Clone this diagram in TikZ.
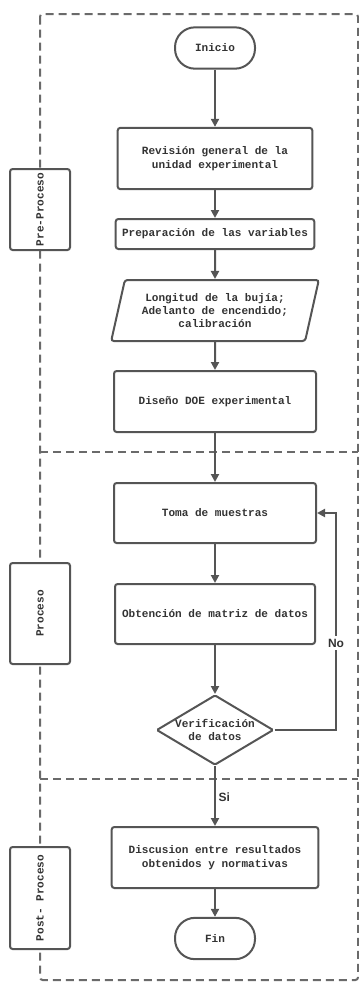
\documentclass[tikz,border=0pt]{standalone}
\usepackage{fontspec}
\setmonofont{Liberation Mono}
\setsansfont{Liberation Sans}
\usetikzlibrary{arrows.meta,shapes.geometric}
\definecolor{fcline}{HTML}{555555}
\definecolor{fctext}{HTML}{333333}
\definecolor{fcdash}{HTML}{6A6A6A}

\begin{document}
\begin{tikzpicture}[x=0.75pt, y=-0.75pt,
  txt/.style={font=\ttfamily\bfseries\fontsize{8.3}{10}\selectfont, text=fctext, align=center},
  box/.style={txt, draw=fcline, line width=1.5pt, fill=white, rounded corners=2pt, inner sep=2pt},
  term/.style={box, rounded corners=15pt, minimum width=60pt, minimum height=31pt},
  io/.style={box, trapezium, trapezium left angle=74, trapezium right angle=106, trapezium stretches=true, minimum width=156pt, minimum height=45.75pt},
  decision/.style={draw=fcline, line width=1.5pt, fill=white, diamond, rounded corners=1pt, minimum width=87.75pt, minimum height=52.5pt, inner sep=0pt},
  lane/.style={box, rotate=90, minimum height=45pt},
  flow/.style={draw=fcline, line width=1.5pt, -{Triangle[length=6pt,width=6pt]}},
  answer/.style={font=\sffamily\bfseries\fontsize{9}{10}\selectfont, text=fctext, inner sep=2pt},
  frame/.style={draw=fcdash, line width=1.5pt, dash pattern=on 6pt off 3.75pt}]
  \useasboundingbox (0,0) rectangle (358,983);

  % swimlanes
  \draw[frame, rounded corners=2pt] (40,14) rectangle (358,980);
  \draw[frame] (40,452) -- (358,452);
  \draw[frame] (40,779) -- (358,779);
  \node[lane, minimum width=60.75pt] (pre) at (40,209.5) {Pre-Proceso};
  \node[lane, minimum width=75.75pt] (proc) at (40,613.5) {Proceso};
  \node[lane, minimum width=76.5pt] (post) at (40,898) {Post- Proceso};

  % steps
  \node[term] (inicio) at (215,48) {Inicio};
  \node[box, minimum width=146pt, minimum height=46pt] (revision) at (215,158.5) {Revisión general de la\\unidad experimental};
  \node[box, minimum width=149pt, minimum height=22.5pt] (prep) at (215,234) {Preparación de las variables};
  \node[io] (vars) at (215,310.5) {Longitud de la bujía;\\Adelanto de encendido;\\calibración};
  \node[box, minimum width=151.5pt, minimum height=45.75pt] (doe) at (215,401.5) {Diseño DOE experimental};
  \node[box, minimum width=151.5pt, minimum height=45pt] (toma) at (215,513) {Toma de muestras};
  \node[box, minimum width=150pt, minimum height=45pt] (matriz) at (215,614) {Obtención de matriz de datos};
  \node[decision, label={[txt]center:Verificación\\de datos}] (verif) at (215,730) {};
  \node[box, minimum width=155pt, minimum height=45.75pt] (discusion) at (215,857.5) {Discusion entre resultados\\obtenidos y normativas};
  \node[term] (fin) at (215,938.5) {Fin};
  \coordinate (back) at (336,513);

  % arrows
  \draw[flow] (inicio) -- (revision);
  \draw[flow] (revision) -- (prep);
  \draw[flow] (prep) -- (vars);
  \draw[flow] (vars) -- (doe);
  \draw[flow] (doe) -- (toma);
  \draw[flow] (toma) -- (matriz);
  \draw[flow] (matriz) -- (verif);
  \draw[flow] (verif) -- (discusion) node[pos=0.52, right, answer] {Si};
  \draw[flow] (verif.east) -| (back) node[pos=0.7, answer, fill=white] {No} -- (toma.east);
  \draw[flow] (discusion) -- (fin);
\end{tikzpicture}
\end{document}
